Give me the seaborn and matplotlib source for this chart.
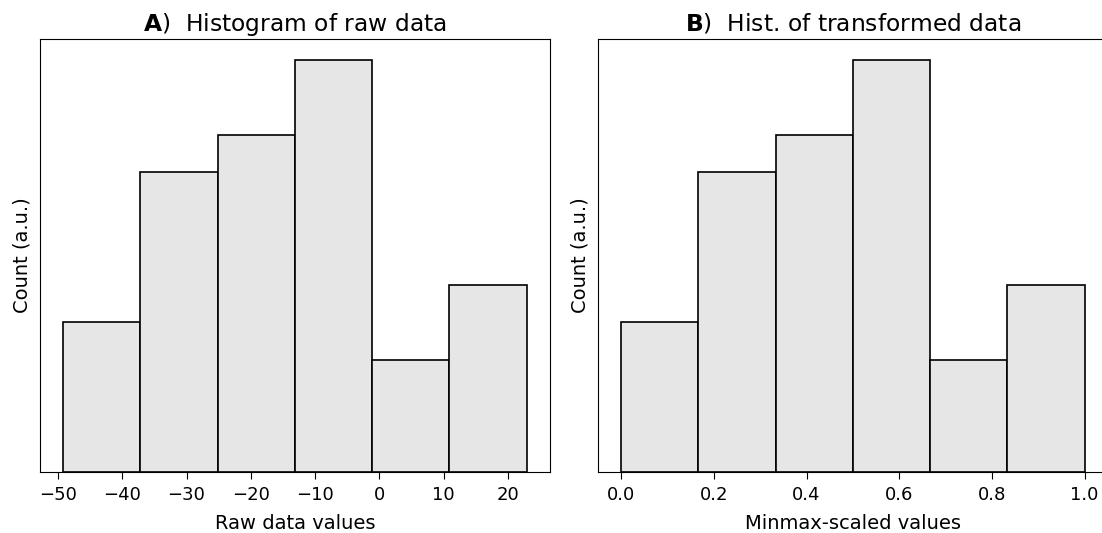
import matplotlib
matplotlib.use("Agg")
import matplotlib.pyplot as plt
import seaborn as sns
import numpy as np
import pandas as pd

# Histogram data
counts = [4, 8, 9, 11, 3, 5]
raw_min, raw_max = -49.2, 22.9
scaled_min, scaled_max = 0.0, 1.0
n_bins = 6

raw_edges = np.linspace(raw_min, raw_max, n_bins + 1)
scaled_edges = np.linspace(scaled_min, scaled_max, n_bins + 1)
raw_df = pd.DataFrame({"x": (raw_edges[:-1] + raw_edges[1:]) / 2, "w": counts})
scaled_df = pd.DataFrame({"x": (scaled_edges[:-1] + scaled_edges[1:]) / 2, "w": counts})

fig = plt.figure(figsize=(11.02, 5.33), dpi=100)
W, H = 1102, 533
axA = fig.add_axes([40 / W, (H - 472) / H, 509.7 / W, 433 / H])
axB = fig.add_axes([598 / W, (H - 472) / H, 509.7 / W, 433 / H])

for ax, df, rng, title, xlabel in [
    (axA, raw_df, (raw_min, raw_max), r"$\bf{A}$)  Histogram of raw data", "Raw data values"),
    (axB, scaled_df, (scaled_min, scaled_max), r"$\bf{B}$)  Hist. of transformed data", "Minmax-scaled values"),
]:
    sns.histplot(data=df, x="x", weights="w", bins=n_bins, binrange=rng, ax=ax,
                 color=(0.9, 0.9, 0.9), alpha=1, edgecolor="black", linewidth=1.2)
    ax.set_title(title, fontsize=16.8)
    ax.set_xlabel(xlabel, fontsize=14, labelpad=7)
    ax.set_ylabel("Count (a.u.)", fontsize=14, labelpad=6)
    ax.set_yticks([])
    ax.tick_params(axis="x", labelsize=13, length=5, pad=5)

axB.set_xticks([0.0, 0.2, 0.4, 0.6, 0.8, 1.0])

fig.savefig("out.png", dpi=100)
